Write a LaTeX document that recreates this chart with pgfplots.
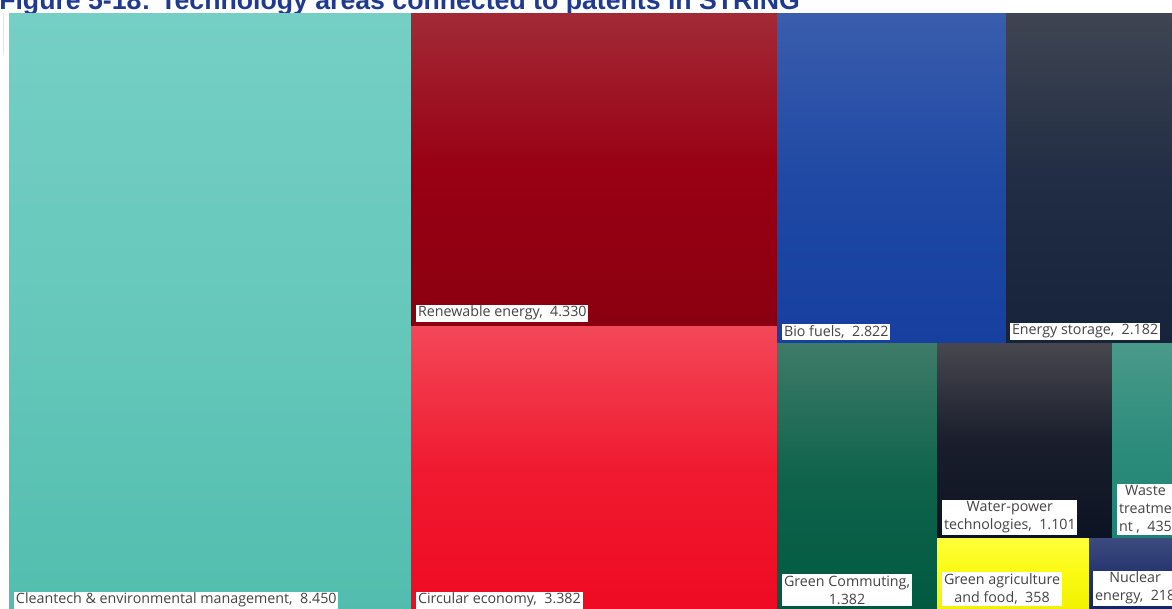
\documentclass[border=0pt]{standalone}
\usepackage{pgfplots}
\pgfplotsset{compat=1.18}
\usepackage{fontspec}
\setmainfont{Open Sans}
\newfontfamily\arialfont{Liberation Sans}
\definecolor{titleblue}{HTML}{1F3A8F}
\definecolor{lbl}{HTML}{444444}
% tile colours: top, middle, bottom
\definecolor{aT}{HTML}{75CFC4}\definecolor{aM}{HTML}{66C8BB}\definecolor{aB}{HTML}{52BDAE}
\definecolor{bT}{HTML}{A22A36}\definecolor{bM}{HTML}{990014}\definecolor{bB}{HTML}{8A0010}
\definecolor{cT}{HTML}{F24858}\definecolor{cM}{HTML}{F01A30}\definecolor{cB}{HTML}{EE0A22}
\definecolor{dT}{HTML}{3A5DAD}\definecolor{dM}{HTML}{1F49A4}\definecolor{dB}{HTML}{163FA0}
\definecolor{eT}{HTML}{3F4551}\definecolor{eM}{HTML}{212D45}\definecolor{eB}{HTML}{17233A}
\definecolor{fT}{HTML}{3E7B69}\definecolor{fM}{HTML}{0F634B}\definecolor{fB}{HTML}{005A40}
\definecolor{gT}{HTML}{47474F}\definecolor{gM}{HTML}{1A1E2C}\definecolor{gB}{HTML}{0C1322}
\definecolor{hT}{HTML}{4A9A8A}\definecolor{hM}{HTML}{2D8D7C}\definecolor{hB}{HTML}{1E8272}
\definecolor{iT}{HTML}{FFFF3A}\definecolor{iM}{HTML}{FAFA10}\definecolor{iB}{HTML}{F0F000}
\definecolor{jT}{HTML}{3C4B7E}\definecolor{jM}{HTML}{24336E}\definecolor{jB}{HTML}{132466}
\newcommand{\tile}[5]{%
  \addplot[draw=none, mark=none, forget plot, top color=#5T, bottom color=#5B, middle color=#5M]
    coordinates {(#1,#2) (#3,#2) (#3,#4) (#1,#4)};}
\tikzset{lab/.style={fill=white, text=lbl, font=\fontsize{10.7}{13.5}\selectfont,
  inner xsep=1.3pt, inner ysep=1.1pt, align=center, anchor=south west}}
\begin{document}
\begin{tikzpicture}
\useasboundingbox (0,0) rectangle (879pt,456pt);
\clip (0,0) rectangle (879pt,456pt);
\begin{axis}[at={(0,0)}, anchor=south west, scale only axis,
  width=879pt, height=456pt, xmin=0, xmax=1172, ymin=0, ymax=608,
  y dir=reverse, hide axis, clip=false]
\node[anchor=base west, inner sep=0pt, font=\arialfont\bfseries\fontsize{20}{24}\selectfont, text=titleblue]
  at (axis cs:-1,9.5) {Figure 5-18: Technology areas connected to patents in STRING};
\addplot[draw=black!10, line width=0.6pt, mark=none, forget plot] coordinates {(3,13) (3,55)};
% tiles: x0,y0,x1,y1, colour set
\tile{9}{13}{411}{612}{a}
\tile{411}{13}{777}{326}{b}
\tile{411}{326}{777}{612}{c}
\tile{777}{13}{1006}{343}{d}
\tile{1006}{13}{1180}{343}{e}
\tile{777}{343}{937}{612}{f}
\tile{937}{343}{1112}{538}{g}
\tile{1112}{343}{1180}{538}{h}
\tile{937}{538}{1089}{612}{i}
\tile{1089}{538}{1180}{612}{j}
% labels
\node[lab] at (axis cs:14,609) {Cleantech \& environmental\ management,\ \ 8.450};
\node[lab] at (axis cs:416,322) {Renewable energy,\ \ 4.330};
\node[lab] at (axis cs:416,609) {Circular economy,\ \ 3.382};
\node[lab] at (axis cs:782,340) {Bio fuels,\ \ 2.822};
\node[lab] at (axis cs:1010,340) {Energy storage,\ \ 2.182};
\node[lab] at (axis cs:782,606) {Green Commuting,\\1.382};
\node[lab] at (axis cs:942,535) {Water-power\\technologies,\ \ 1.101};
\node[lab] at (axis cs:1117,535) {Waste\\treatme\\nt ,\ \ 435};
\node[lab] at (axis cs:942,606) {Green agriculture\\and food,\ \ 358};
\node[lab] at (axis cs:1093,606) {Nuclear\\energy,\ \ 218};
\end{axis}
\end{tikzpicture}
\end{document}
